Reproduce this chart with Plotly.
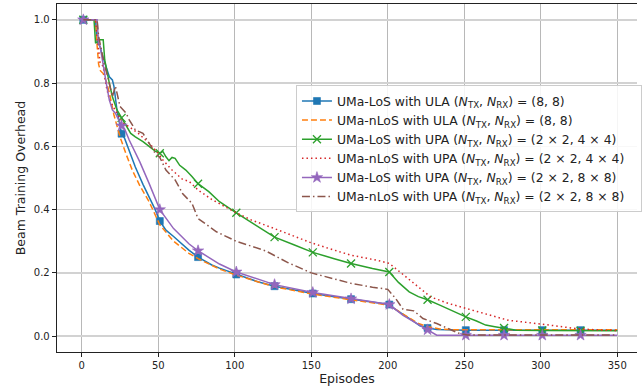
import plotly.graph_objects as go

# ---------------- data ----------------
MARK_EP = [1, 26, 51, 76, 101, 126, 151, 176, 201, 226, 251, 276, 301, 326]

LOS_ULA_EP = [1, 9, 10, 12, 13, 16, 18, 20, 21, 23, 26, 28, 31, 35, 40, 44, 48, 51, 55, 60,
              65, 70, 76, 85, 90, 101, 115, 126, 140, 151, 165, 176, 190, 201, 205, 210, 216,
              221, 226, 232, 240, 251, 276, 301, 326, 350]
LOS_ULA = [1.0, 1.0, 0.93, 0.915, 0.895, 0.853, 0.82, 0.81, 0.79, 0.715, 0.64, 0.625, 0.585,
           0.535, 0.48, 0.44, 0.40, 0.364, 0.335, 0.315, 0.292, 0.272, 0.25, 0.225, 0.215,
           0.195, 0.172, 0.158, 0.144, 0.135, 0.125, 0.117, 0.107, 0.100, 0.085, 0.07, 0.05,
           0.033, 0.026, 0.021, 0.02, 0.019, 0.019, 0.019, 0.019, 0.019]

NLOS_ULA_EP = [1, 9, 10, 11, 12, 14, 16, 18, 21, 25, 29, 33, 38, 44, 51, 60, 70, 76, 90, 101,
               126, 151, 176, 201, 210, 220, 226, 235, 245, 350]
NLOS_ULA = [1.0, 1.0, 0.92, 0.86, 0.84, 0.83, 0.805, 0.77, 0.70, 0.63, 0.575, 0.525, 0.475,
            0.425, 0.352, 0.30, 0.262, 0.245, 0.212, 0.193, 0.156, 0.133, 0.115, 0.098, 0.07,
            0.04, 0.03, 0.022, 0.02, 0.02]

LOS_UPA44_EP = [1, 8, 9, 12, 14, 15, 18, 20, 23, 26, 29, 32, 35, 40, 44, 48, 51, 53, 55, 57,
                59, 61, 64, 68, 72, 76, 83, 90, 101, 111, 126, 139, 151, 165, 176, 190, 201,
                207, 214, 220, 226, 234, 241, 251, 258, 264, 270, 276, 284, 301, 326, 350]
LOS_UPA44 = [1.0, 1.0, 0.926, 0.937, 0.937, 0.873, 0.80, 0.757, 0.715, 0.69, 0.662, 0.641,
             0.63, 0.615, 0.60, 0.585, 0.578, 0.584, 0.567, 0.555, 0.565, 0.562, 0.54, 0.525,
             0.505, 0.482, 0.457, 0.425, 0.39, 0.36, 0.313, 0.288, 0.265, 0.245, 0.23, 0.214,
             0.203, 0.17, 0.14, 0.125, 0.115, 0.098, 0.082, 0.061, 0.048, 0.035, 0.03, 0.026,
             0.019, 0.018, 0.017, 0.017]

NLOS_UPA44_EP = [1, 9, 10, 12, 14, 16, 18, 22, 27, 31, 37, 44, 50, 53, 59, 66, 70, 76, 85, 101,
                 111, 126, 141, 150, 165, 176, 193, 201, 210, 220, 228, 240, 251, 265, 279, 301,
                 323, 340, 350]
NLOS_UPA44 = [1.0, 1.0, 0.948, 0.863, 0.853, 0.79, 0.747, 0.715, 0.673, 0.662, 0.641, 0.61,
              0.578, 0.557, 0.525, 0.495, 0.49, 0.462, 0.432, 0.39, 0.367, 0.34, 0.312, 0.295,
              0.272, 0.256, 0.24, 0.23, 0.195, 0.155, 0.124, 0.103, 0.088, 0.068, 0.05, 0.038,
              0.024, 0.019, 0.018]

LOS_UPA88_EP = [1, 10, 11, 12, 16, 18, 20, 22, 26, 28, 31, 38, 44, 51, 60, 70, 76, 90, 101, 126,
                151, 176, 201, 210, 219, 226, 232, 251, 276, 301, 326, 350]
LOS_UPA88 = [1.0, 1.0, 0.926, 0.916, 0.80, 0.747, 0.715, 0.705, 0.665, 0.655, 0.62, 0.55,
             0.483, 0.40, 0.34, 0.292, 0.27, 0.228, 0.203, 0.163, 0.138, 0.118, 0.1, 0.066,
             0.04, 0.02, 0.003, 0.003, 0.003, 0.003, 0.003, 0.003]

NLOS_UPA88_EP = [1, 10, 11, 13, 15, 17, 20, 22, 25, 29, 31, 35, 40, 44, 48, 51, 55, 61, 66, 72,
                 76, 88, 101, 120, 135, 150, 165, 176, 190, 200, 205, 210, 217, 223, 232, 240,
                 247, 252, 350]
NLOS_UPA88 = [1.0, 1.0, 0.948, 0.895, 0.853, 0.82, 0.757, 0.79, 0.726, 0.705, 0.684, 0.652,
              0.641, 0.61, 0.578, 0.565, 0.525, 0.494, 0.45, 0.42, 0.372, 0.33, 0.30, 0.27,
              0.232, 0.2, 0.18, 0.167, 0.155, 0.148, 0.12, 0.085, 0.08, 0.056, 0.04, 0.024,
              0.008, 0.004, 0.004]

NT = "(<i>N</i><sub>TX</sub>, <i>N</i><sub>RX</sub>)"
PAD = "<span style='color:rgba(0,0,0,0)'>rr</span>"
LABELS = [
    f"UMa-LoS with ULA {NT} = (8, 8){PAD}",
    f"UMa-nLoS with ULA {NT} = (8, 8){PAD}",
    f"UMa-LoS with UPA {NT} = (2 × 2, 4 × 4){PAD}",
    f"UMa-nLoS with UPA {NT} = (2 × 2, 4 × 4){PAD}",
    f"UMa-LoS with UPA {NT} = (2 × 2, 8 × 8){PAD}",
    f"UMa-nLoS with UPA {NT} = (2 × 2, 8 × 8){PAD}",
]
X_TICKS = [0, 50, 100, 150, 200, 250, 300, 350]
Y_TICKS = [0.0, 0.2, 0.4, 0.6, 0.8, 1.0]

# ---------------- styles ----------------
SERIES = [
    (LOS_ULA_EP, LOS_ULA, "#1f77b4", "solid", "square", 7),
    (NLOS_ULA_EP, NLOS_ULA, "#ff7f0e", "6px,3px", None, 0),
    (LOS_UPA44_EP, LOS_UPA44, "#2ca02c", "solid", "x-thin", 8),
    (NLOS_UPA44_EP, NLOS_UPA44, "#d62728", "1.5px,3px", None, 0),
    (LOS_UPA88_EP, LOS_UPA88, "#9467bd", "solid", "star", 8.5),
    (NLOS_UPA88_EP, NLOS_UPA88, "#8c564b", "8px,3px,1.5px,3px", None, 0),
]


def marker_style(sym, ms, col):
    return dict(symbol=sym, size=ms, color=col,
                line=dict(color=col, width=1.3 if sym == "x-thin" else 0.6))


fig = go.Figure()
for i, (ep, val, col, dash, sym, ms) in enumerate(SERIES):
    g = f"s{i}"
    fig.add_trace(go.Scatter(x=ep, y=val, mode="lines", legendgroup=g, showlegend=False,
                             line=dict(color=col, width=1.5, dash=dash), hoverinfo="skip"))
    if sym:
        mx = [e for e in ep if e in MARK_EP]
        my = [v for e, v in zip(ep, val) if e in MARK_EP]
        fig.add_trace(go.Scatter(x=mx, y=my, mode="markers", legendgroup=g, showlegend=False,
                                 marker=marker_style(sym, ms, col), hoverinfo="skip"))

for i, (ep, val, col, dash, sym, ms) in enumerate(SERIES):
    mode = "lines+markers" if sym else "lines"
    kw = dict()
    if sym:
        kw["marker"] = marker_style(sym, ms, col)
    fig.add_trace(go.Scatter(x=[None], y=[None], mode=mode, name=LABELS[i], legendgroup=f"s{i}",
                             line=dict(color=col, width=1.5, dash=dash), **kw))

FONT = "DejaVu Sans"
fig.update_layout(
    width=642, height=389,
    margin=dict(l=57, r=0, t=4, b=37),
    paper_bgcolor="white", plot_bgcolor="white",
    font=dict(family=FONT, size=10, color="#222"),
    showlegend=True,
    legend=dict(x=0.412, y=0.766, xanchor="left", yanchor="top",
                bgcolor="rgba(255,255,255,0.85)", bordercolor="#cccccc", borderwidth=1,
                font=dict(family=FONT, size=12.4, color="#222"),
                itemwidth=30, tracegroupgap=0),
)
fig.update_xaxes(range=[-16.2, 362.9], tickvals=X_TICKS, ticks="outside", ticklen=4,
                 tickwidth=1, tickcolor="#222", showline=True, linecolor="#222", linewidth=1.3,
                 mirror=True, showgrid=True, gridcolor="#b8b8b8", gridwidth=1, zeroline=False,
                 title=dict(text="Episodes", font=dict(family=FONT, size=12.5, color="#222"),
                            standoff=4),
                 automargin=False)
fig.update_yaxes(range=[-0.05, 1.05], tickvals=Y_TICKS, tickformat=".1f", ticks="outside",
                 ticklen=4, tickwidth=1, tickcolor="#222", showline=True, linecolor="#222",
                 linewidth=1.3, showgrid=True, gridcolor="#d2d2d2", gridwidth=1.6, zeroline=False,
                 title=dict(text="Beam Training Overhead",
                            font=dict(family=FONT, size=12.5, color="#222"), standoff=5),
                 automargin=False)

fig.write_html("out.html", config={"displayModeBar": False, "staticPlot": True},
               post_script="document.body.style.margin='0';document.body.style.overflow='hidden';")
